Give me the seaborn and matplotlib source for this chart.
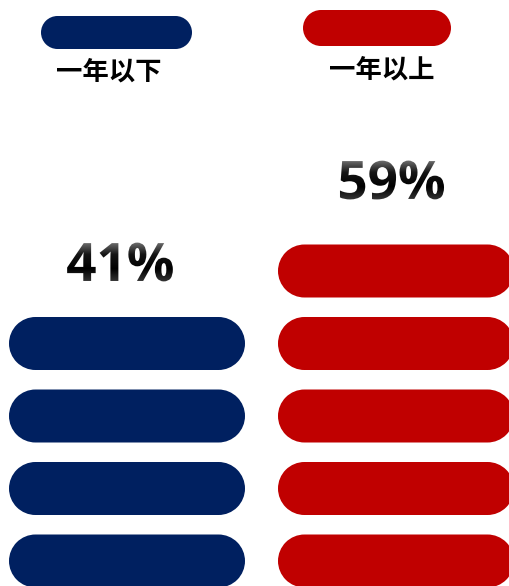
import numpy as np
import pandas as pd
import matplotlib.pyplot as plt
import seaborn as sns
from matplotlib.patches import PathPatch
from matplotlib.path import Path
from matplotlib.textpath import TextPath
from matplotlib.font_manager import FontProperties
from matplotlib.transforms import Affine2D
from matplotlib.colors import LinearSegmentedColormap

# Data
groups = ['一年以下', '一年以上']
shares = [41, 59]
units = [4, 5]
colors = ['#002060', '#C00000']

sns.set_theme(style='white')
plt.rcParams['font.family'] = ['Noto Sans CJK SC', 'DejaVu Sans']

W, H = 510, 586
fig = plt.figure(figsize=(W / 100, H / 100), dpi=100)
ax = fig.add_axes([0, 0, 1, 1])
ax.set_xlim(0, W)
ax.set_ylim(H, 0)
ax.axis('off')

# layout (pixels)
col_x = [9, 278]
bar_len = 236
step = 72.5
bar_h = 53
base_y = 561
label_y = [262, 180]
legend_box = [(41, 16, 151, 33), (303, 10, 148, 36)]
legend_label_y = [72, 70]

# one row per unit bar
rows = []
for g, n in zip(groups, units):
    for i in range(n):
        rows.append({'group': g, 'slot': i, 'length': 1})
df = pd.DataFrame(rows)


def pill(x, y, w, h, color):
    # capsule: two true semicircles joined by straight edges
    r = h / 2
    right = Path.arc(-90, 90)
    left = Path.arc(90, 270)
    v_r = right.vertices * r + [x + w - r, y + r]
    v_l = left.vertices * r + [x + r, y + r]
    c_l = left.codes.copy()
    c_l[0] = Path.LINETO
    verts = np.vstack([v_r, v_l, v_r[:1]])
    codes = np.concatenate([right.codes, c_l, [Path.CLOSEPOLY]])
    ax.add_patch(PathPatch(Path(verts, codes), facecolor=color, edgecolor='none'))


def gradient_text(x, y, s, size):
    fp = FontProperties(family='Open Sans', weight='bold')
    tp = TextPath((0, 0), s, size=size, prop=fp)
    bb = tp.get_extents()
    tr = (Affine2D().translate(-(bb.x0 + bb.x1) / 2, -(bb.y0 + bb.y1) / 2)
          .scale(1, -1).translate(x, y) + ax.transData)
    patch = PathPatch(tp, transform=tr, facecolor='none', edgecolor='none')
    ax.add_patch(patch)
    w, h = bb.width, bb.height
    grad = np.linspace(0, 1, 200).reshape(-1, 1)
    cmap = LinearSegmentedColormap.from_list(
        'g', ['#808080', '#151515', '#000000', '#3a3a3a'])
    im = ax.imshow(grad, extent=[x - w / 2 - 2, x + w / 2 + 2, y + h / 2 + 2, y - h / 2 - 2],
                   cmap=cmap, aspect='auto', zorder=5, interpolation='bilinear')
    im.set_clip_path(patch)


for k, g in enumerate(groups):
    sub = df[df['group'] == g]
    sax = fig.add_axes([col_x[k] / W, 0, bar_len / W, 1])
    sns.barplot(data=sub, x='length', y='slot', orient='h', native_scale=True,
                width=bar_h / step, color=colors[k], ax=sax)
    sax.set_xlim(0, 1)
    sax.set_ylim(-(H - base_y) / step, base_y / step)
    # swap seaborn's rectangles for rounded pills on the main axes
    to_px = sax.transData + ax.transData.inverted()
    for p in list(sax.patches):
        (x0, y0), (x1, y1) = to_px.transform([(p.get_x(), p.get_y()),
                                              (p.get_x() + p.get_width(), p.get_y() + p.get_height())])
        pill(min(x0, x1), min(y0, y1), abs(x1 - x0), abs(y1 - y0), colors[k])
        p.remove()
    sax.axis('off')

    # legend pill + label
    lx, ly, lw, lh = legend_box[k]
    pill(lx, ly, lw, lh, colors[k])
    ax.text(lx + lw / 2 - 8 if k == 0 else lx + lw / 2 + 5, legend_label_y[k], g,
            ha='center', va='center', fontsize=19, fontweight='bold', color='black')

    gradient_text(col_x[k] + bar_len / 2 - (7 if k == 0 else 4), label_y[k], f'{shares[k]}%', 53)

ax.set_xlim(0, W)
ax.set_ylim(H, 0)
fig.savefig('out.png', dpi=100)
